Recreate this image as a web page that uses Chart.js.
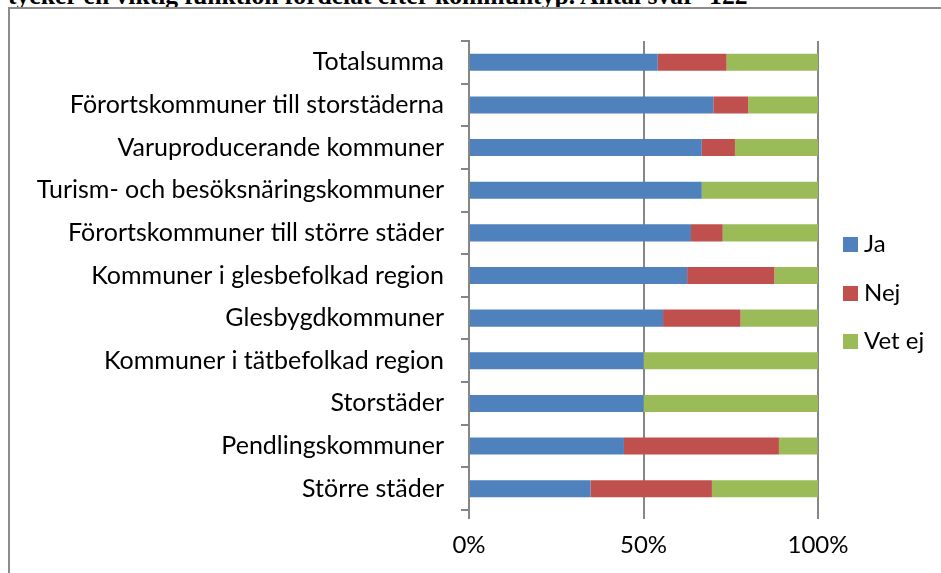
<!DOCTYPE html>
<html>
<head>
<meta charset="utf-8">
<script src="https://cdn.jsdelivr.net/npm/chart.js@4"></script>
<style>
  html, body { margin: 0; padding: 0; background: #fff; overflow: hidden; }
  #page { position: relative; width: 941px; height: 573px; overflow: hidden; }
  #title { position: absolute; left: 8px; top: -19px; font: bold 25.6px "Liberation Serif", serif; color: #000; white-space: nowrap; }
  #frame { position: absolute; left: 8px; top: 7px; width: 960px; height: 600px; border: 2px solid #8c8c8c; box-sizing: border-box; }
  #wrap { position: absolute; left: 9px; top: 9px; width: 932px; height: 564px; }
  #legend { position: absolute; left: 843px; top: 228px; font: 24px Lato, sans-serif; color: #000; }
  #legend div { height: 48.5px; display: flex; align-items: flex-start; }
  #legend span.box { display: inline-block; width: 15px; height: 15px; margin: 9px 6px 0 0; }
</style>
</head>
<body>
<div id="page">
  <div id="title">tycker en viktig funktion fördelat efter kommuntyp. Antal svar=122</div>
  <div id="frame"></div>
  <div id="wrap"><canvas id="chart" width="932" height="564"></canvas></div>
  <div id="legend"></div>
</div>
<script>
// Kategorier (uppifrån och ner)
const categories = [
  'Totalsumma',
  'Förortskommuner till storstäderna',
  'Varuproducerande kommuner',
  'Turism- och besöksnäringskommuner',
  'Förortskommuner till större städer',
  'Kommuner i glesbefolkad region',
  'Glesbygdkommuner',
  'Kommuner i tätbefolkad region',
  'Storstäder',
  'Pendlingskommuner',
  'Större städer'
];

const seriesNames = ['Ja', 'Nej', 'Vet ej'];
const seriesColors = ['#4F81BD', '#C0504D', '#9BBB59'];

// Andelar i procent
const ja    = [54.1, 70.0, 66.7, 66.7, 63.6, 62.5, 55.6, 50.0, 50.0, 44.4, 34.8];
const nej   = [19.7, 10.0,  9.5,  0.0,  9.1, 25.0, 22.2,  0.0,  0.0, 44.4, 34.8];
const vetEj = [26.2, 20.0, 23.8, 33.3, 27.3, 12.5, 22.2, 50.0, 50.0, 11.1, 30.4];

const xTicks = [0, 50, 100];

const seriesValues = [ja, nej, vetEj];

// Legend som HTML
document.getElementById('legend').innerHTML = seriesNames.map((name, i) =>
  `<div><span class="box" style="background:${seriesColors[i]}"></span><span>${name}</span></div>`
).join('');

const font = { family: 'Lato', size: 25 };

new Chart(document.getElementById('chart').getContext('2d'), {
  type: 'bar',
  data: {
    labels: categories,
    datasets: seriesNames.map((name, i) => ({
      label: name,
      data: seriesValues[i],
      backgroundColor: seriesColors[i],
      borderWidth: 0,
      barPercentage: 0.4,
      categoryPercentage: 1.0
    }))
  },
  options: {
    indexAxis: 'y',
    responsive: false,
    animation: false,
    layout: { padding: { top: 27, right: 123, bottom: 0, left: 0 } },
    plugins: { legend: { display: false }, tooltip: { enabled: false } },
    scales: {
      x: {
        stacked: true,
        min: 0, max: 100,
        afterBuildTicks: (scale) => { scale.ticks = xTicks.map(v => ({ value: v })); },
        afterFit: (scale) => { scale.height = 63; },
        grid: { color: '#868686', lineWidth: 2, tickLength: 9, drawOnChartArea: true },
        border: { display: false },
        ticks: { font: { family: 'Lato', size: 24 }, color: '#000', padding: 12, callback: (v) => v + '%' }
      },
      y: {
        stacked: true,
        afterFit: (scale) => { scale.width = 460; },
        grid: { color: '#868686', lineWidth: 2, tickLength: 8, drawOnChartArea: false, offset: true },
        border: { color: '#868686', width: 2 },
        ticks: { font: font, color: '#000', padding: 17 }
      }
    }
  }
});
</script>
</body>
</html>
